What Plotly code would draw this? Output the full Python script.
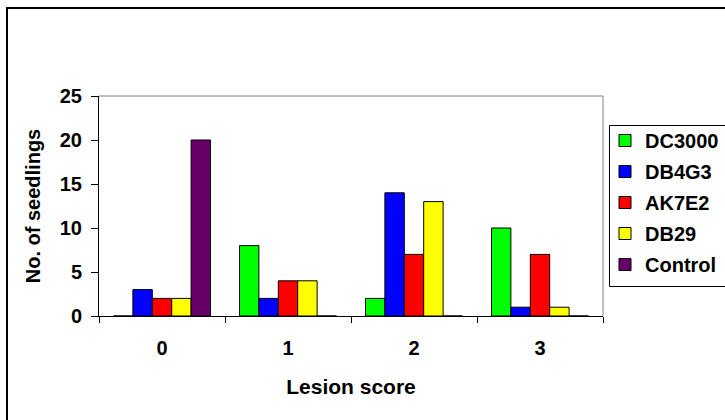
import plotly.graph_objects as go

categories = ["0", "1", "2", "3"]
series_names = ["DC3000", "DB4G3", "AK7E2", "DB29", "Control"]
dc3000 = [0, 8, 2, 10]
db4g3 = [3, 2, 14, 1]
ak7e2 = [2, 4, 7, 7]
db29 = [2, 4, 13, 1]
control = [20, 0, 0, 0]
colors = ["#00FF00", "#0000FF", "#FF0000", "#FFFF00", "#660066"]
y_ticks = [0, 5, 10, 15, 20, 25]

FONT = "Arial, 'Liberation Sans', sans-serif"

fig = go.Figure()
for i, (name, vals) in enumerate(zip(series_names, [dc3000, db4g3, ak7e2, db29, control])):
    fig.add_trace(go.Bar(
        x=categories, y=vals, name=name, legendgroup=name,
        marker=dict(color=colors[i], line=dict(color="black", width=1)),
    ))

L, R, T, B = 99, 122, 96, 104
W, H = 725, 420
pw = W - L - R
ph = H - T - B

def px_x(p):
    return (p - L) / pw

def px_y(p):
    return (H - B - p) / ph

fig.update_layout(
    width=W, height=H,
    margin=dict(l=L, r=R, t=T, b=B, autoexpand=False),
    paper_bgcolor="white", plot_bgcolor="white",
    barmode="group", bargap=0.23, bargroupgap=0,
    font=dict(family=FONT, size=20, color="black", weight="bold"),
    showlegend=True,
    legend=dict(
        x=px_x(605), y=px_y(121), xanchor="left", yanchor="top",
        borderwidth=0, bgcolor="rgba(0,0,0,0)",
        font=dict(family=FONT, size=20, color="black", weight="bold"),
        tracegroupgap=2, itemwidth=30, traceorder="grouped",
    ),
    xaxis=dict(
        type="category", showline=True, linecolor="black", linewidth=1,
        ticks="outside", ticklen=6, tickcolor="black", tickson="boundaries",
        showgrid=False, zeroline=False, ticklabelstandoff=14,
        tickfont=dict(family=FONT, size=20, weight="bold"),
        title=dict(text="Lesion score", standoff=21,
                   font=dict(family=FONT, size=21, weight="bold")),
    ),
    yaxis=dict(
        range=[0, 25], tickvals=y_ticks, showline=True, linecolor="black", linewidth=1,
        ticks="outside", ticklen=7, tickcolor="black",
        showgrid=False, zeroline=False, ticklabelstandoff=5,
        tickfont=dict(family=FONT, size=20, weight="bold"),
        title=dict(text="No. of seedlings", standoff=13,
                   font=dict(family=FONT, size=20, weight="bold")),
    ),
    shapes=[
        # gray plot-area border (top and right)
        dict(type="line", xref="paper", yref="paper", x0=0, x1=1, y0=1, y1=1,
             line=dict(color="#808080", width=1)),
        dict(type="line", xref="paper", yref="paper", x0=1, x1=1, y0=0, y1=1,
             line=dict(color="#808080", width=1)),
        # legend box
        dict(type="rect", xref="paper", yref="paper",
             x0=px_x(609.5), x1=px_x(760), y0=px_y(125.5), y1=px_y(286.5),
             line=dict(color="black", width=1), fillcolor="white", layer="below"),
        # outer chart border
        dict(type="rect", xref="paper", yref="paper",
             x0=px_x(7), x1=px_x(740), y0=px_y(8), y1=px_y(440),
             line=dict(color="black", width=2), layer="below"),
    ],
)

fig.write_html("out.html", config={"displayModeBar": False},
               post_script="document.body.style.margin='0px';")
